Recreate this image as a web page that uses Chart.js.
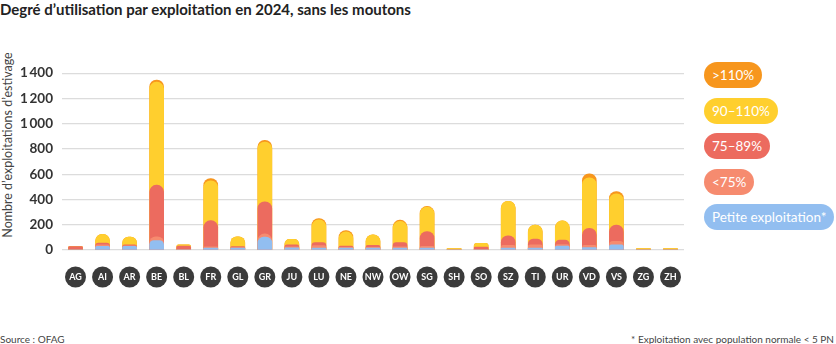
<!DOCTYPE html>
<html>
<head>
<meta charset="utf-8">
<script src="https://cdn.jsdelivr.net/npm/chart.js@4/dist/chart.umd.min.js"></script>
<style>
  body { margin: 0; background: #fff; font-family: "Lato", "Noto Sans", sans-serif; }
  #wrap { position: relative; width: 836px; height: 344px; overflow: hidden; }
  #title { position: absolute; left: 0; top: 0; font-size: 15px; font-weight: 700; color: #222; white-space: nowrap; }
  #ytitle { position: absolute; left: 7px; top: 145px; transform: translate(-50%, -50%) rotate(-90deg); font-size: 12.5px; color: #444; white-space: nowrap; }
  #chart { position: absolute; left: 0; top: 56px; }
  .pill { position: absolute; left: 704px; height: 26px; line-height: 26px; padding: 0 8px; border-radius: 13px; color: #fff; font-size: 13.5px; white-space: nowrap; }
  .foot { position: absolute; top: 333px; font-size: 10px; color: #444; white-space: nowrap; }
</style>
</head>
<body>
<div id="wrap">
  <div id="title">Degré d’utilisation par exploitation en 2024, sans les moutons</div>
  <div id="ytitle">Nombre d’exploitations d’estivage</div>
  <canvas id="chart" width="700" height="244"></canvas>
  <div id="legend"></div>
  <div class="foot" style="left:0">Source : OFAG</div>
  <div class="foot" style="right:2px">* Exploitation avec population normale &lt; 5 PN</div>
</div>
<script>
const cantons = ['AG','AI','AR','BE','BL','FR','GL','GR','JU','LU','NE','NW','OW','SG','SH','SO','SZ','TI','UR','VD','VS','ZG','ZH'];

// nombre d'exploitations par classe
const petite  = [0, 30, 30, 75, 0, 16, 16, 103, 18, 16, 16, 16, 16, 16, 0, 0, 16, 16, 32, 19, 40, 0, 0];
const moins75 = [0, 10, 3, 30, 5, 9, 4, 24, 7, 18, 6, 6, 9, 14, 0, 5, 20, 25, 11, 18, 29, 0, 0];
const de75a89 = [28, 15, 7, 408, 27, 207, 7, 254, 15, 25, 10, 15, 34, 116, 0, 19, 76, 45, 36, 135, 129, 0, 0];
const de90a110 = [0, 70, 62, 815, 8, 316, 78, 474, 45, 179, 111, 83, 167, 194, 12, 29, 273, 112, 151, 399, 246, 12, 12];
const plus110 = [0, 0, 0, 17, 0, 17, 0, 13, 0, 11, 11, 0, 10, 5, 0, 0, 0, 0, 0, 32, 19, 0, 0];

const yTicks = [0, 200, 400, 600, 800, 1000, 1200, 1400];

const classes = [
  { label: 'Petite exploitation*', data: petite, color: '#92bef0' },
  { label: '<75%', data: moins75, color: '#f68b6f' },
  { label: '75–89%', data: de75a89, color: '#ec6b5f' },
  { label: '90–110%', data: de90a110, color: '#ffcf2e' },
  { label: '>110%', data: plus110, color: '#f7961d' }
];

// barres superposées : chaque barre va de 0 au cumul
let running = cantons.map(() => 0);
const datasets = classes.map(c => {
  running = running.map((v, i) => v + c.data[i]);
  return {
    label: c.label,
    data: running.slice(),
    backgroundColor: c.color,
    grouped: false,
    barThickness: 14,
    borderRadius: 7,
    borderSkipped: 'start'
  };
});

// légende
const legend = document.getElementById('legend');
classes.slice().reverse().forEach((c, i) => {
  const d = document.createElement('div');
  d.className = 'pill';
  d.style.top = (62 + i * 35.5) + 'px';
  d.style.background = c.color;
  d.textContent = c.label;
  legend.appendChild(d);
});

const circleLabels = {
  id: 'circleLabels',
  afterDraw(chart) {
    const ctx = chart.ctx;
    const xs = chart.scales.x;
    const y = chart.chartArea.bottom + 27;
    ctx.save();
    cantons.forEach((c, i) => {
      const x = xs.getPixelForTick(i);
      ctx.beginPath();
      ctx.arc(x, y, 10.5, 0, Math.PI * 2);
      ctx.fillStyle = '#3b3b3b';
      ctx.fill();
      ctx.fillStyle = '#fff';
      ctx.font = 'bold 9px Lato, "Noto Sans", sans-serif';
      ctx.textAlign = 'center';
      ctx.textBaseline = 'middle';
      ctx.fillText(c, x, y + 0.5);
    });
    ctx.restore();
  }
};

new Chart('chart', {
  type: 'bar',
  data: { labels: cantons, datasets: datasets },
  options: {
    responsive: false,
    animation: false,
    layout: { padding: { top: 8, right: 16, bottom: 42, left: 0 } },
    plugins: { legend: { display: false }, tooltip: { enabled: false } },
    scales: {
      x: {
        grid: { display: false },
        border: { display: false },
        ticks: { display: false }
      },
      y: {
        min: 0,
        max: 1400,
        afterFit: s => { s.width = 62; },
        afterBuildTicks: s => { s.ticks = yTicks.map(v => ({ value: v })); },
        grid: { color: '#dcdcdc', lineWidth: 1.2, drawTicks: false },
        border: { display: false },
        ticks: {
          padding: 9,
          color: '#333',
          font: { family: 'Lato, "Noto Sans", sans-serif', size: 13.5, weight: 'bold' },
          callback: v => v >= 1000 ? Math.floor(v / 1000) + '\u2009' + String(v % 1000).padStart(3, '0') : String(v)
        }
      }
    }
  },
  plugins: [circleLabels]
});
</script>
</body>
</html>
